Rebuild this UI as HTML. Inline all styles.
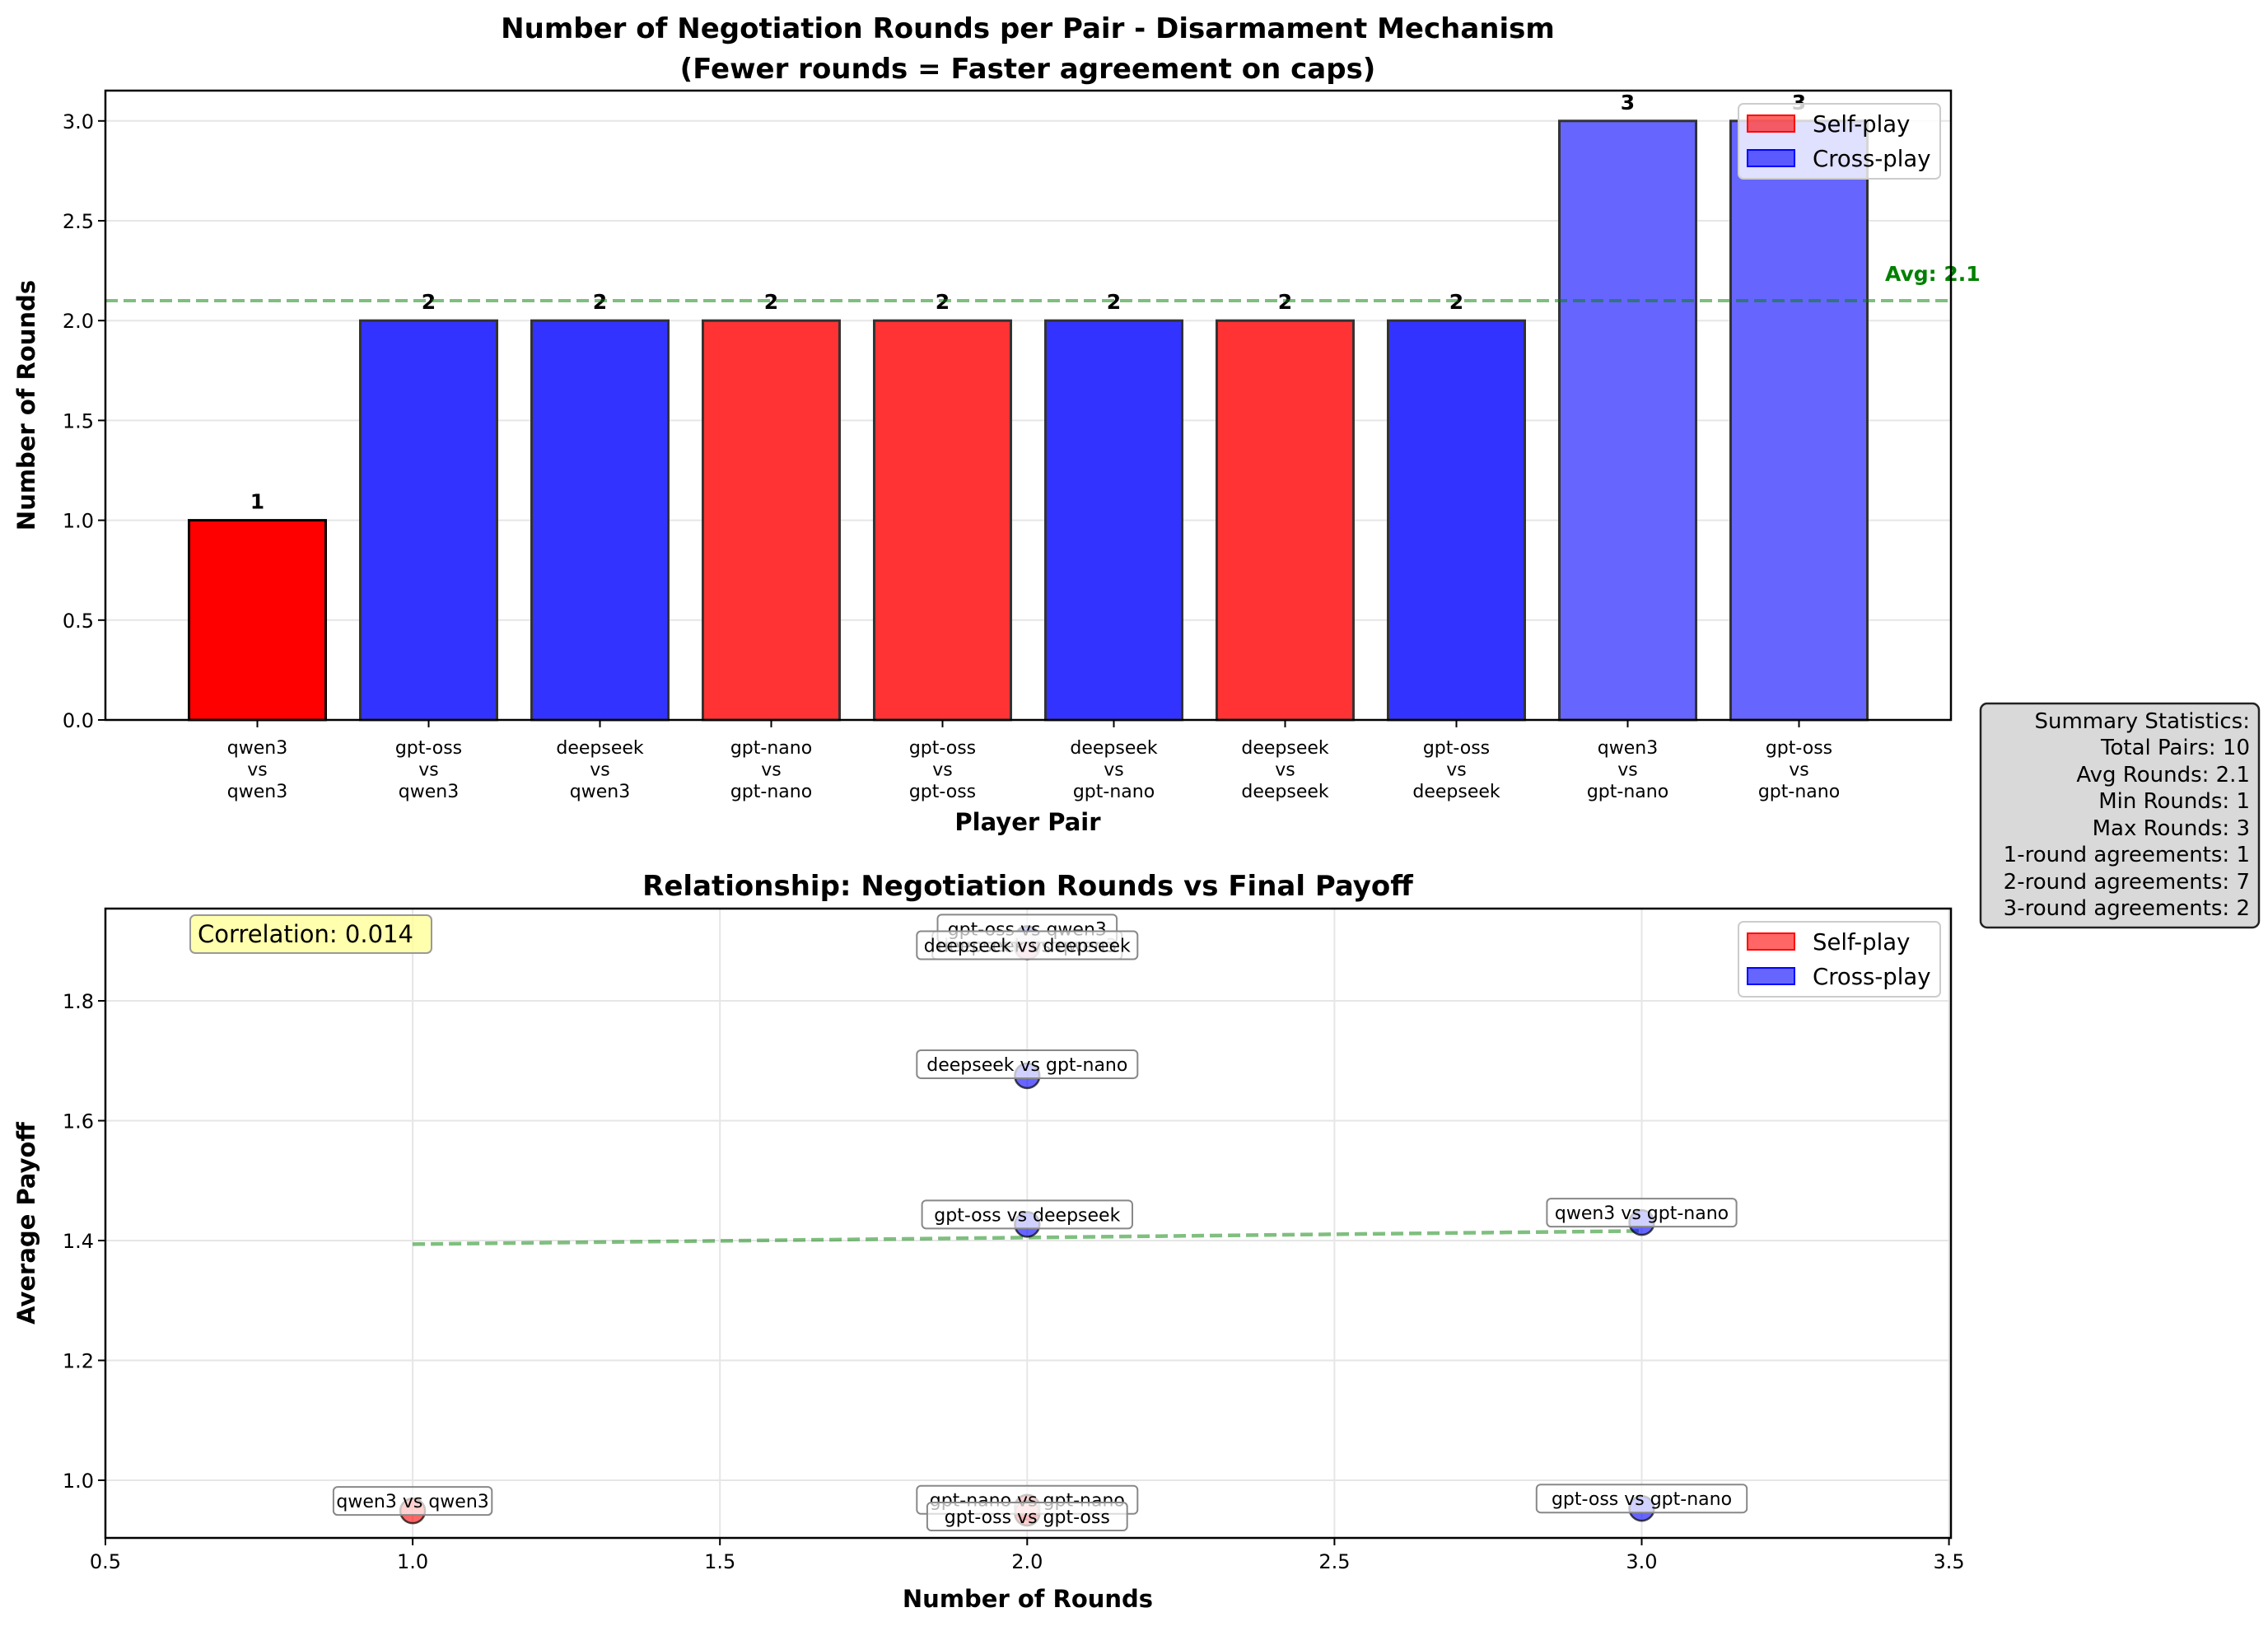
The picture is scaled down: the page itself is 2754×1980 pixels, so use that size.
<!DOCTYPE html>
<html><head><meta charset="utf-8"><style>
body{margin:0;background:#fff}
svg{display:block;font-family:"DejaVu Sans","Liberation Sans",sans-serif}
</style></head><body>
<svg id="fig" width="2754" height="1980" viewBox="0 0 2754 1980" xmlns="http://www.w3.org/2000/svg">
<rect width="2754" height="1980" fill="#fff"/>
<g id="topG"></g>
<g id="botG"></g>
<text x="1248" y="46" font-size="34" font-weight="bold" text-anchor="middle">Number of Negotiation Rounds per Pair - Disarmament Mechanism</text>
<text x="1248" y="95" font-size="34" font-weight="bold" text-anchor="middle">(Fewer rounds = Faster agreement on caps)</text>
<text x="1248" y="1008" font-size="29" font-weight="bold" text-anchor="middle">Player Pair</text>
<text transform="translate(42,492) rotate(-90)" font-size="29" font-weight="bold" text-anchor="middle">Number of Rounds</text>
<text x="1248" y="1087" font-size="34" font-weight="bold" text-anchor="middle">Relationship: Negotiation Rounds vs Final Payoff</text>
<text x="1248" y="1951" font-size="29" font-weight="bold" text-anchor="middle">Number of Rounds</text>
<text transform="translate(42,1485) rotate(-90)" font-size="29" font-weight="bold" text-anchor="middle">Average Payoff</text>
<g>
<rect x="2405" y="854" width="338" height="272" rx="8" fill="#d9d9d9" stroke="#222" stroke-width="2.5"/>
<text font-size="26" text-anchor="end"><tspan x="2732" y="884">Summary Statistics:</tspan><tspan x="2732" y="916">Total Pairs: 10</tspan><tspan x="2732" y="949">Avg Rounds: 2.1</tspan><tspan x="2732" y="981">Min Rounds: 1</tspan><tspan x="2732" y="1014">Max Rounds: 3</tspan><tspan x="2732" y="1046">1-round agreements: 1</tspan><tspan x="2732" y="1079">2-round agreements: 7</tspan><tspan x="2732" y="1111">3-round agreements: 2</tspan></text></g>
</svg>
<script>
const pairs=["qwen3 vs qwen3","gpt-oss vs qwen3","deepseek vs qwen3","gpt-nano vs gpt-nano","gpt-oss vs gpt-oss","deepseek vs gpt-nano","deepseek vs deepseek","gpt-oss vs deepseek","qwen3 vs gpt-nano","gpt-oss vs gpt-nano"];
const rounds=[1,2,2,2,2,2,2,2,3,3];
const isSelf=[true,false,false,true,true,false,true,false,false,false];
const payoffs=[0.949,1.904,1.89,0.955,0.945,1.675,1.89,1.427,1.430,0.953];
const avgRounds=2.1;
const yTicksTop=[0,0.5,1.0,1.5,2.0,2.5,3.0];
const xTicksBot=[0.5,1.0,1.5,2.0,2.5,3.0,3.5];
const yTicksBot=[1.0,1.2,1.4,1.6,1.8];
const trendX=[1,3];
const trendY=[1.394,1.416];
const correlation="0.014";

const NS="http://www.w3.org/2000/svg";
function mk(parent,tag,attrs,text){const e=document.createElementNS(NS,tag);for(const k in attrs)e.setAttribute(k,attrs[k]);if(text!==undefined)e.textContent=text;parent.appendChild(e);return e;}
const topG=document.getElementById('topG'),botG=document.getElementById('botG');
const L=128,R=2369,T1=110,B1=874;
const xb=i=>312.5+i*208;
const yt=v=>B1-v*242.4;
yTicksTop.forEach(v=>{
 const g=mk(topG,'line',{x1:L,x2:R,y1:yt(v),y2:yt(v),stroke:'#e6e6e6','stroke-width':2});
 
 
 mk(topG,'line',{x1:L-9,x2:L,y1:yt(v),y2:yt(v),stroke:'#000','stroke-width':2});
 const t=mk(topG,'text',{x:L-14,y:yt(v)+9,'font-size':24,'text-anchor':'end'},v.toFixed(1));
 
 
});
function barColor(i){if(isSelf[i])return i===0?'#ff0000':'#ff3333';return rounds[i]===3?'#6666ff':'#3333ff';}
rounds.forEach((r,i)=>{
 const x=xb(i)-83,w=166;
 const b=mk(topG,'rect',{x:x,y:yt(r),width:w,height:yt(0)-yt(r),fill:barColor(i),stroke:i===0?'#000':'#333','stroke-width':3});
 
 
 const v=mk(topG,'text',{x:xb(i),y:yt(r)-14,'font-size':25,'font-weight':'bold','text-anchor':'middle'},String(r));
 
 
 mk(topG,'line',{x1:xb(i),x2:xb(i),y1:B1,y2:B1+9,stroke:'#000','stroke-width':2});
 const p=pairs[i].split(' vs ');
 const t=mk(topG,'text',{'font-size':22,'text-anchor':'middle'});
 
 
 [p[0],'vs',p[1]].forEach((s,k)=>mk(t,'tspan',{x:xb(i),y:915+k*26.5},s));
});
const avg=mk(topG,'line',{x1:L,x2:R,y1:yt(avgRounds),y2:yt(avgRounds),stroke:'#008000','stroke-opacity':0.5,'stroke-width':4,'stroke-dasharray':'15,7'});


const at=mk(topG,'text',{x:2289,y:yt(avgRounds)-24,'font-size':25,'font-weight':'bold',fill:'#008000'},'Avg: '+avgRounds.toFixed(1));


mk(topG,'rect',{x:L,y:T1,width:R-L,height:B1-T1,fill:'none',stroke:'#000','stroke-width':2.5});
function legend(parent,y0){
 const g=mk(parent,'g',{});
 
 
 mk(g,'rect',{x:2111,y:y0,width:245,height:91,rx:6,fill:'#fff','fill-opacity':0.8,stroke:'#ccc','stroke-width':2});
 [['Self-play','#ff0000'],['Cross-play','#0000ff']].forEach((e,k)=>{
  const it=mk(g,'g',{});
  
  
  mk(it,'rect',{x:2122,y:y0+14+k*42,width:57,height:20,fill:e[1],'fill-opacity':0.6,stroke:e[1],'stroke-width':2});
  mk(it,'text',{x:2201,y:y0+34+k*42,'font-size':27.5},e[0]);
 });
}
legend(topG,126);
const T2=1103,B2=1867;
const xs=v=>L+(v-0.5)*746.2;
const ys=v=>1797-(v-1.0)*727.5;
xTicksBot.forEach(v=>{
 const g=mk(botG,'line',{x1:xs(v),x2:xs(v),y1:T2,y2:B2,stroke:'#e6e6e6','stroke-width':2});
 
 
 mk(botG,'line',{x1:xs(v),x2:xs(v),y1:B2,y2:B2+9,stroke:'#000','stroke-width':2});
 const t=mk(botG,'text',{x:xs(v),y:B2+37,'font-size':24,'text-anchor':'middle'},v.toFixed(1));
 
 
});
yTicksBot.forEach(v=>{
 const g=mk(botG,'line',{x1:L,x2:R,y1:ys(v),y2:ys(v),stroke:'#e6e6e6','stroke-width':2});
 
 
 mk(botG,'line',{x1:L-9,x2:L,y1:ys(v),y2:ys(v),stroke:'#000','stroke-width':2});
 const t=mk(botG,'text',{x:L-14,y:ys(v)+9,'font-size':24,'text-anchor':'end'},v.toFixed(1));
 
 
});
const tr=mk(botG,'line',{x1:xs(trendX[0]),x2:xs(trendX[1]),y1:ys(trendY[0]),y2:ys(trendY[1]),stroke:'#008000','stroke-opacity':0.5,'stroke-width':4.5,'stroke-dasharray':'15,7'});


const labelDy=[-12,-12,-2,-9,4,-14,-2,-12,-12,-12];
const order=[2,0,1,3,4,5,6,7,8,9];
order.forEach(i=>{
 const c=mk(botG,'circle',{cx:xs(rounds[i]),cy:ys(payoffs[i]),r:15,fill:isSelf[i]?'#ff0000':'#0000ff','fill-opacity':0.6,stroke:'#000','stroke-opacity':0.7,'stroke-width':2.5});
 
 
});
order.forEach(i=>{
 const cx=xs(rounds[i]),cy=ys(payoffs[i])+labelDy[i];
 const w=pairs[i].length*12.6+16;
 const g=mk(botG,'g',{});
 
 
 mk(g,'rect',{x:cx-w/2,y:cy-17,width:w,height:34,rx:5,fill:'#fff','fill-opacity':0.7,stroke:'#888','stroke-width':2});
 mk(g,'text',{x:cx,y:cy+8,'font-size':22,'text-anchor':'middle'},pairs[i]);
});
const cg=mk(botG,'g',{});


mk(cg,'rect',{x:231,y:1111,width:293,height:46,rx:6,fill:'#ffff99','fill-opacity':0.8,stroke:'#999','stroke-width':2});
mk(cg,'text',{x:240,y:1144,'font-size':29},'Correlation: '+correlation);
mk(botG,'rect',{x:L,y:T2,width:R-L,height:B2-T2,fill:'none',stroke:'#000','stroke-width':2.5});
legend(botG,1119);
</script>
</body></html>
